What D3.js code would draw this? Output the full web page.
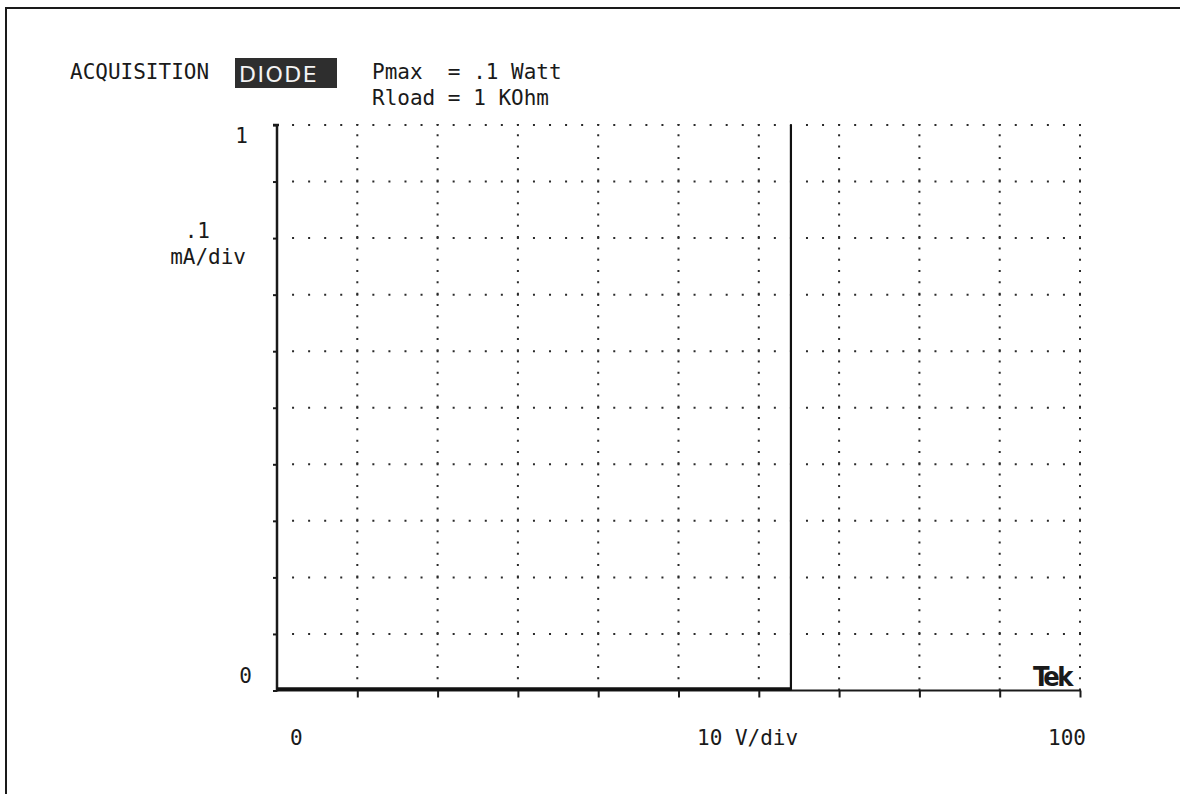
<!DOCTYPE html>
<html><head><meta charset="utf-8">
<script src="https://cdn.jsdelivr.net/npm/d3@7"></script>
<style>html,body{margin:0;padding:0;background:#fff;}svg{display:block;}</style>
</head><body>
<svg id="c" width="1180" height="794"></svg>
<script>
// ---- data ----
const xDomain = [0, 100];          // volts
const yDomain = [0, 1];            // mA
const xDivisions = 10;
const yDivisions = 10;
const traceV = [0, 64, 64];        // V
const traceI = [0, 0, 1];          // mA
const headerMode = "ACQUISITION";
const headerBadge = "DIODE";
const headerParams = ["Pmax  = .1 Watt", "Rload = 1 KOhm"];
const yTickLabels = ["1", "0"];
const yUnitLabels = [".1", "mA/div"];
const xTickLabels = ["0", "10 V/div", "100"];

// ---- layout ----
const svg = d3.select("#c");
const L = 277, R = 1080, T = 125, B = 690.5;
const x = d3.scaleLinear().domain(xDomain).range([L, R]);
const y = d3.scaleLinear().domain(yDomain).range([B, T]);
const mono = "'DejaVu Sans Mono', 'Liberation Mono', monospace";
const ink = "#1a1a1a";

// frame
svg.append("path").attr("d", "M6,794 L6,8 L1180,8")
  .attr("fill", "none").attr("stroke", ink).attr("stroke-width", 2);

// grid
const xt = d3.range(xDivisions + 1).map(i => xDomain[0] + i * (xDomain[1] - xDomain[0]) / xDivisions);
const yt = d3.range(yDivisions + 1).map(i => yDomain[0] + i * (yDomain[1] - yDomain[0]) / yDivisions);
const xStep = (R - L) / xDivisions / 5, yStep = (B - T) / yDivisions / 5;
const g = svg.append("g");
g.selectAll(".hg").data(yt.slice(1)).join("line")
  .attr("x1", L).attr("x2", R + 1).attr("y1", d => y(d)).attr("y2", d => y(d))
  .attr("stroke", "#2a2a2a").attr("stroke-width", 2)
  .attr("stroke-dasharray", `2,${xStep - 2}`).attr("stroke-dashoffset", 1);
g.selectAll(".vg").data(xt.slice(1)).join("line")
  .attr("x1", d => x(d)).attr("x2", d => x(d)).attr("y1", T - 1).attr("y2", B)
  .attr("stroke", "#2a2a2a").attr("stroke-width", 2)
  .attr("stroke-dasharray", `2,${yStep - 2}`).attr("stroke-dashoffset", 1);

// axes
const yAxis = d3.axisLeft(y).tickValues(yt).tickSize(4).tickFormat("");
const xAxis = d3.axisBottom(x).tickValues(xt.slice(1)).tickSize(7).tickFormat("");
const ya = svg.append("g").attr("transform", `translate(${L},0)`).call(yAxis);
const xa = svg.append("g").attr("transform", `translate(0,${B})`).call(xAxis);
ya.select(".domain").remove(); xa.select(".domain").remove();
ya.selectAll("line").attr("stroke", ink).attr("stroke-width", 2);
xa.selectAll("line").attr("stroke", ink).attr("stroke-width", 2);
svg.append("line").attr("x1", L).attr("x2", L).attr("y1", T - 1).attr("y2", B + 1)
  .attr("stroke", ink).attr("stroke-width", 2.5);
svg.append("line").attr("x1", L - 1).attr("x2", R + 1).attr("y1", B).attr("y2", B)
  .attr("stroke", ink).attr("stroke-width", 2);
svg.append("line").attr("x1", L - 4).attr("x2", L + 2).attr("y1", T).attr("y2", T)
  .attr("stroke", ink).attr("stroke-width", 2.5);

// trace
const pts = traceV.map((v, i) => [x(v), y(traceI[i])]);
svg.append("path").attr("d", d3.line()(pts.slice(0, 2).map(p => [p[0], p[1] - 1.5])))
  .attr("fill", "none").attr("stroke", "#111").attr("stroke-width", 3.5);
svg.append("path").attr("d", d3.line()(pts.slice(1)))
  .attr("fill", "none").attr("stroke", "#111").attr("stroke-width", 2.2);

// header
const txt = (s, px, py, opts = {}) => svg.append("text").text(s)
  .attr("x", px).attr("y", py).attr("font-family", opts.font || mono)
  .attr("font-size", opts.size || 21).attr("fill", opts.fill || ink)
  .attr("text-anchor", opts.anchor || "start")
  .attr("letter-spacing", opts.ls != null ? opts.ls : 0)
  .attr("font-weight", opts.weight || "normal")
  .attr("xml:space", "preserve").style("white-space", "pre");

txt(headerMode, 70, 79);
svg.append("rect").attr("x", 235).attr("y", 58).attr("width", 102).attr("height", 30).attr("fill", "#2e2e2e");
txt(headerBadge, 239, 82, {font: "'DejaVu Sans', sans-serif", size: 22, fill: "#f4f4f4", ls: 1.5});
txt(headerParams[0], 372, 79);
txt(headerParams[1], 372, 105);

// y labels
txt(yTickLabels[0], 248, 143, {anchor: "end"});
txt(yUnitLabels[0], 210, 238, {anchor: "end"});
txt(yUnitLabels[1], 246, 264, {anchor: "end"});
txt(yTickLabels[1], 252, 683, {anchor: "end"});

// x labels
txt(xTickLabels[0], x(xDomain[0]) + 13, 745);
txt(xTickLabels[1], 697, 745);
txt(xTickLabels[2], 1086, 745, {anchor: "end"});

// Tek logo
txt("Tek", 1071, 686, {font: "'DejaVu Sans Condensed', 'DejaVu Sans', sans-serif", size: 27, weight: "bold", anchor: "end", ls: -2.5});
</script>
</body></html>
